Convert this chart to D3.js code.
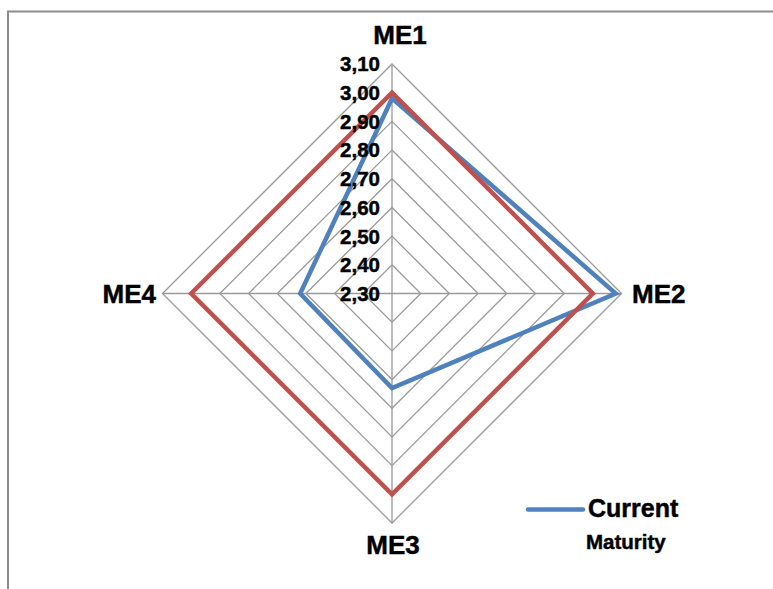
<!DOCTYPE html>
<html>
<head>
<meta charset="utf-8">
<script src="https://cdn.jsdelivr.net/npm/d3@7"></script>
<style>
  html, body { margin: 0; padding: 0; background: #fff; }
  svg { display: block; }
  text { font-family: "Liberation Sans", Arial, sans-serif; font-weight: bold; fill: #000; stroke: #000; stroke-width: 0.45px; }
</style>
</head>
<body>
<svg id="chart" width="773" height="589"></svg>
<script>
// Radar axes (clockwise from the top)
const axes = ["ME1", "ME2", "ME3", "ME4"];
// Ring levels on the radial scale
const ringTicks = [2.30, 2.40, 2.50, 2.60, 2.70, 2.80, 2.90, 3.00, 3.10];
// Series values per axis
const currentValues = [2.98, 3.08, 2.63, 2.62];
const targetValues = [3.00, 3.00, 3.00, 3.00];
const legendLabel = ["Current", "Maturity"];

const svg = d3.select("#chart");
const cx = 392, cy = 293.5, R = 229.5;
const gridColor = "#9a9a9a";
const blue = "#4f81bd", red = "#c0504d";

const r = d3.scaleLinear().domain([2.30, 3.10]).range([0, R]);
const angle = d3.scaleBand().domain(axes).range([0, 2 * Math.PI]).align(0).paddingInner(0);
const fmt = v => d3.format(".2f")(v).replace(".", ",");

// Outer frame (top and left edges visible)
svg.append("path")
  .attr("d", "M8,589 L8,11.5 L773,11.5")
  .attr("fill", "none").attr("stroke", "#8c8c8c").attr("stroke-width", 2);

const g = svg.append("g").attr("transform", `translate(${cx},${cy})`);

const pt = (axis, v) => {
  const a = angle(axis);
  return [Math.sin(a) * r(v), -Math.cos(a) * r(v)];
};

// Concentric grid polygons
g.selectAll("path.ring")
  .data(ringTicks.slice(1))
  .join("path")
  .attr("class", "ring")
  .attr("d", t => d3.line()(axes.map(a => pt(a, t))) + "Z")
  .attr("fill", "none").attr("stroke", gridColor).attr("stroke-width", 1.3);

// Spokes
g.selectAll("line.spoke")
  .data(axes)
  .join("line")
  .attr("class", "spoke")
  .attr("x1", 0).attr("y1", 0)
  .attr("x2", a => pt(a, 3.10)[0]).attr("y2", a => pt(a, 3.10)[1])
  .attr("stroke", gridColor).attr("stroke-width", 1.3);

// Series polygons
const series = [
  { values: currentValues, color: blue },
  { values: targetValues, color: red }
];
g.selectAll("path.series")
  .data(series)
  .join("path")
  .attr("class", "series")
  .attr("d", s => d3.line()(axes.map((a, i) => pt(a, s.values[i]))) + "Z")
  .attr("fill", "none")
  .attr("stroke", s => s.color)
  .attr("stroke-width", 4.5)
  .attr("stroke-linejoin", "miter");

// Ring value labels along the top spoke
g.selectAll("text.tick")
  .data(ringTicks)
  .join("text")
  .attr("class", "tick")
  .attr("x", -12)
  .attr("y", t => -r(t))
  .attr("dy", "0.36em")
  .attr("text-anchor", "end")
  .style("font-size", "20.5px")
  .text(fmt);

// Axis labels
const labelPos = {
  ME1: { x: 8, y: -259, anchor: "middle" },
  ME2: { x: 240, y: 0, anchor: "start" },
  ME3: { x: 1, y: 251, anchor: "middle" },
  ME4: { x: -236, y: 0, anchor: "end" }
};
g.selectAll("text.axis")
  .data(axes)
  .join("text")
  .attr("class", "axis")
  .attr("x", a => labelPos[a].x)
  .attr("y", a => labelPos[a].y)
  .attr("dy", "0.36em")
  .attr("text-anchor", a => labelPos[a].anchor)
  .style("font-size", "26px")
  .text(a => a);

// Legend
const lg = svg.append("g").attr("transform", "translate(528,509.5)");
lg.append("line")
  .attr("x1", 0).attr("x2", 55).attr("y1", 0).attr("y2", 0)
  .attr("stroke", blue).attr("stroke-width", 4.5).attr("stroke-linecap", "round");
lg.append("text")
  .attr("x", 60).attr("y", -1.5).attr("dy", "0.36em")
  .style("font-size", "25px")
  .text(legendLabel[0]);
lg.append("text")
  .attr("x", 58).attr("y", 32).attr("dy", "0.36em")
  .style("font-size", "20.5px")
  .text(legendLabel[1]);
</script>
</body>
</html>
